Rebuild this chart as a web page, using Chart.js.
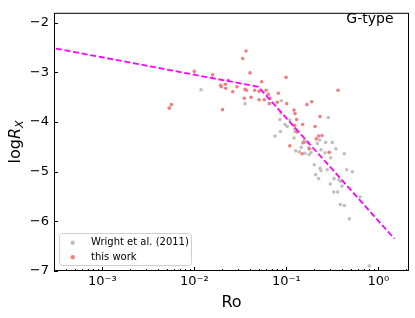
<!DOCTYPE html>
<html>
<head>
<meta charset="utf-8">
<script src="https://cdn.jsdelivr.net/npm/chart.js@4.4.1/dist/chart.umd.min.js"></script>
<style>
  html, body { margin: 0; padding: 0; background: #fff; }
  canvas { display: block; }
</style>
</head>
<body>
<canvas id="myChart" width="415" height="318"></canvas>
<script>
// Wright et al. (2011) G-type sample
var wrightRo = [0.0118, 0.0355, 0.0881, 0.0867, 0.0851, 0.0966, 0.0859, 0.0752, 0.109, 0.124,
    0.123, 0.121, 0.157, 0.150, 0.145, 0.126, 0.138, 0.185, 0.176, 0.159,
    0.230, 0.267, 0.315, 0.285, 0.238, 0.263, 0.346, 0.426, 0.303, 0.201,
    0.232, 0.238, 0.208, 0.224, 0.278, 0.329, 0.373, 0.389, 0.452, 0.520,
    0.300, 0.402, 0.327, 0.361, 0.631, 0.385, 0.426, 0.483, 0.796, 0.173,
    0.176, 0.217, 0.102];
var wrightLogRx = [-3.35, -3.63, -3.57, -3.82, -3.95, -4.05, -4.19, -4.28, -3.96, -4.19,
    -4.13, -4.32, -4.36, -4.42, -4.51, -4.58, -4.60, -4.62, -4.66, -4.63,
    -4.36, -4.41, -4.41, -3.91, -4.56, -4.62, -4.54, -4.64, -4.72, -4.86,
    -4.93, -4.98, -5.06, -5.14, -4.96, -5.14, -5.16, -5.20, -4.96, -5.00,
    -5.25, -5.29, -5.41, -5.41, -5.51, -5.66, -5.68, -5.95, -6.90, -4.42,
    -4.52, -4.43, -4.09];

// this work
var thisRo = [0.00533, 0.00561, 0.00998, 0.0158, 0.0202, 0.0193, 0.0196, 0.0217, 0.0219, 0.0233,
    0.0261, 0.0290, 0.0335, 0.0364, 0.0402, 0.0355, 0.0367, 0.0348, 0.0412, 0.0452,
    0.0504, 0.0504, 0.0539, 0.0600, 0.0636, 0.0575, 0.0663, 0.0652, 0.0817, 0.0796,
    0.0991, 0.1007, 0.121, 0.124, 0.167, 0.188, 0.129, 0.150, 0.123, 0.205,
    0.130, 0.224, 0.244, 0.211, 0.155, 0.177, 0.148, 0.292, 0.109, 0.232,
    0.364];
var thisLogRx = [-3.72, -3.65, -2.98, -3.05, -3.75, -3.26, -3.29, -3.24, -3.32, -3.16,
    -3.39, -3.29, -2.72, -2.57, -3.01, -3.34, -3.36, -3.52, -3.50, -3.36,
    -3.38, -3.55, -3.19, -3.36, -3.44, -3.55, -3.52, -3.63, -3.42, -3.60,
    -3.10, -3.63, -3.76, -3.83, -3.65, -3.59, -3.95, -4.05, -4.07, -4.09,
    -4.20, -4.28, -4.27, -4.34, -4.41, -4.54, -4.64, -4.61, -4.48, -3.89,
    -3.36];

// saturated / unsaturated relation
var fitRo = [3.13e-4, 0.0495, 1.49];
var fitLogRx = [-2.52, -3.29, -6.35];

var xTicks = [1e-3, 1e-2, 1e-1, 1];
var xTickLabels = ['10\u207B\u00B3', '10\u207B\u00B2', '10\u207B\u00B9', '10\u2070'];
var yTicks = [-7, -6, -5, -4, -3, -2];

function toPoints(xs, ys) {
    return xs.map(function (x, i) { return { x: x, y: ys[i] }; });
}

var FONT = 'DejaVu Sans';

// frame, inward ticks, legend, y title and panel label
var decorPlugin = {
    id: 'decor',
    afterDraw: function (chart) {
        var ctx = chart.ctx, a = chart.chartArea;
        var xs = chart.scales.x, ys = chart.scales.y;
        ctx.save();
        ctx.strokeStyle = '#000';
        ctx.lineWidth = 1;

        ctx.beginPath();
        xTicks.forEach(function (v) {
            var px = Math.round(xs.getPixelForValue(v)) + 0.5;
            ctx.moveTo(px, a.bottom);
            ctx.lineTo(px, a.bottom - 4);
        });
        for (var e = -4; e <= 0; e++) {
            for (var k = 2; k <= 9; k++) {
                var v = k * Math.pow(10, e);
                if (v <= xs.min || v >= xs.max) continue;
                var px = Math.round(xs.getPixelForValue(v)) + 0.5;
                ctx.moveTo(px, a.bottom);
                ctx.lineTo(px, a.bottom - 2);
            }
        }
        yTicks.forEach(function (v) {
            var py = Math.round(ys.getPixelForValue(v)) + 0.5;
            ctx.moveTo(a.left, py);
            ctx.lineTo(a.left + 4, py);
        });
        ctx.stroke();

        ctx.strokeRect(a.left + 0.5, a.top + 0.5, a.right - a.left - 1, a.bottom - a.top - 1);

        // legend box in lower left corner
        var lx = 59.5, ly = 233.5, lw = 132, lh = 32, r = 3;
        ctx.beginPath();
        ctx.moveTo(lx + r, ly);
        ctx.arcTo(lx + lw, ly, lx + lw, ly + lh, r);
        ctx.arcTo(lx + lw, ly + lh, lx, ly + lh, r);
        ctx.arcTo(lx, ly + lh, lx, ly, r);
        ctx.arcTo(lx, ly, lx + lw, ly, r);
        ctx.closePath();
        ctx.fillStyle = 'rgba(255,255,255,0.8)';
        ctx.fill();
        ctx.strokeStyle = '#d0d0d0';
        ctx.stroke();

        var items = chart.data.datasets.filter(function (d) { return !d.showLine; });
        ctx.font = '10px "' + FONT + '"';
        ctx.textBaseline = 'middle';
        ctx.textAlign = 'left';
        items.forEach(function (d, i) {
            var y = 242.7 + i * 14.6;
            ctx.beginPath();
            ctx.arc(72.7, y, 2.2, 0, Math.PI * 2);
            ctx.fillStyle = d.backgroundColor;
            ctx.fill();
            ctx.fillStyle = '#000';
            ctx.fillText(d.label, 91, y);
        });

        // panel label
        ctx.font = '14px "' + FONT + '"';
        ctx.textAlign = 'right';
        ctx.textBaseline = 'alphabetic';
        ctx.fillStyle = '#000';
        ctx.fillText('G-type', 393.5, 22.5);

        // y axis title: log R_X
        ctx.translate(16, (a.top + a.bottom) / 2);
        ctx.rotate(-Math.PI / 2);
        ctx.textAlign = 'left';
        ctx.textBaseline = 'middle';
        var f1 = '16px "' + FONT + '"', f2 = 'italic 16px "' + FONT + '"', f3 = 'italic 11px "' + FONT + '"';
        ctx.font = f1; var w1 = ctx.measureText('log').width;
        ctx.font = f2; var w2 = ctx.measureText('R').width;
        ctx.font = f3; var w3 = ctx.measureText('X').width;
        var x0 = -(w1 + w2 + w3) / 2;
        ctx.font = f1; ctx.fillText('log', x0, 0);
        ctx.font = f2; ctx.fillText('R', x0 + w1, 0);
        ctx.font = f3; ctx.fillText('X', x0 + w1 + w2, 4);
        ctx.restore();
    }
};

var ctx = document.getElementById('myChart').getContext('2d');
var myChart = new Chart(ctx, {
    type: 'scatter',
    data: {
        datasets: [
            {
                label: 'Wright et al. (2011)',
                data: toPoints(wrightRo, wrightLogRx),
                backgroundColor: '#c0c0c0',
                borderWidth: 0,
                pointRadius: 1.8,
                order: 3
            },
            {
                label: 'this work',
                data: toPoints(thisRo, thisLogRx),
                backgroundColor: '#f08080',
                borderWidth: 0,
                pointRadius: 1.8,
                order: 2
            },
            {
                label: 'fit',
                data: toPoints(fitRo, fitLogRx),
                showLine: true,
                borderColor: '#ff00ff',
                borderWidth: 1.8,
                borderDash: [6, 2.7],
                pointRadius: 0,
                fill: false,
                order: 1
            }
        ]
    },
    options: {
        responsive: false,
        animation: false,
        devicePixelRatio: 1,
        layout: { padding: { top: 7, right: 6, left: 0, bottom: 0 } },
        scales: {
            x: {
                type: 'logarithmic',
                min: 2.98e-4,
                max: 2.15,
                afterBuildTicks: function (s) { s.ticks = xTicks.map(function (v) { return { value: v }; }); },
                afterFit: function (s) { s.height = 47; },
                grid: { display: false, drawTicks: false },
                border: { display: false },
                ticks: {
                    autoSkip: false,
                    maxRotation: 0,
                    padding: 3,
                    color: '#000',
                    font: { family: FONT, size: 13 },
                    callback: function (v, i) { return xTickLabels[i]; }
                },
                title: {
                    display: true,
                    text: 'Ro',
                    color: '#000',
                    font: { family: FONT, size: 16 },
                    padding: { top: 0, bottom: 6 }
                }
            },
            y: {
                min: -7,
                max: -1.8,
                afterBuildTicks: function (s) { s.ticks = yTicks.map(function (v) { return { value: v }; }); },
                afterFit: function (s) { s.width = 54; },
                grid: { display: false, drawTicks: false },
                border: { display: false },
                ticks: {
                    padding: 5,
                    color: '#000',
                    font: { family: FONT, size: 13 },
                    callback: function (v) { return String(v).replace('-', '\u2212'); }
                }
            }
        },
        plugins: {
            legend: { display: false },
            tooltip: { enabled: false }
        }
    },
    plugins: [decorPlugin]
});
</script>
</body>
</html>
